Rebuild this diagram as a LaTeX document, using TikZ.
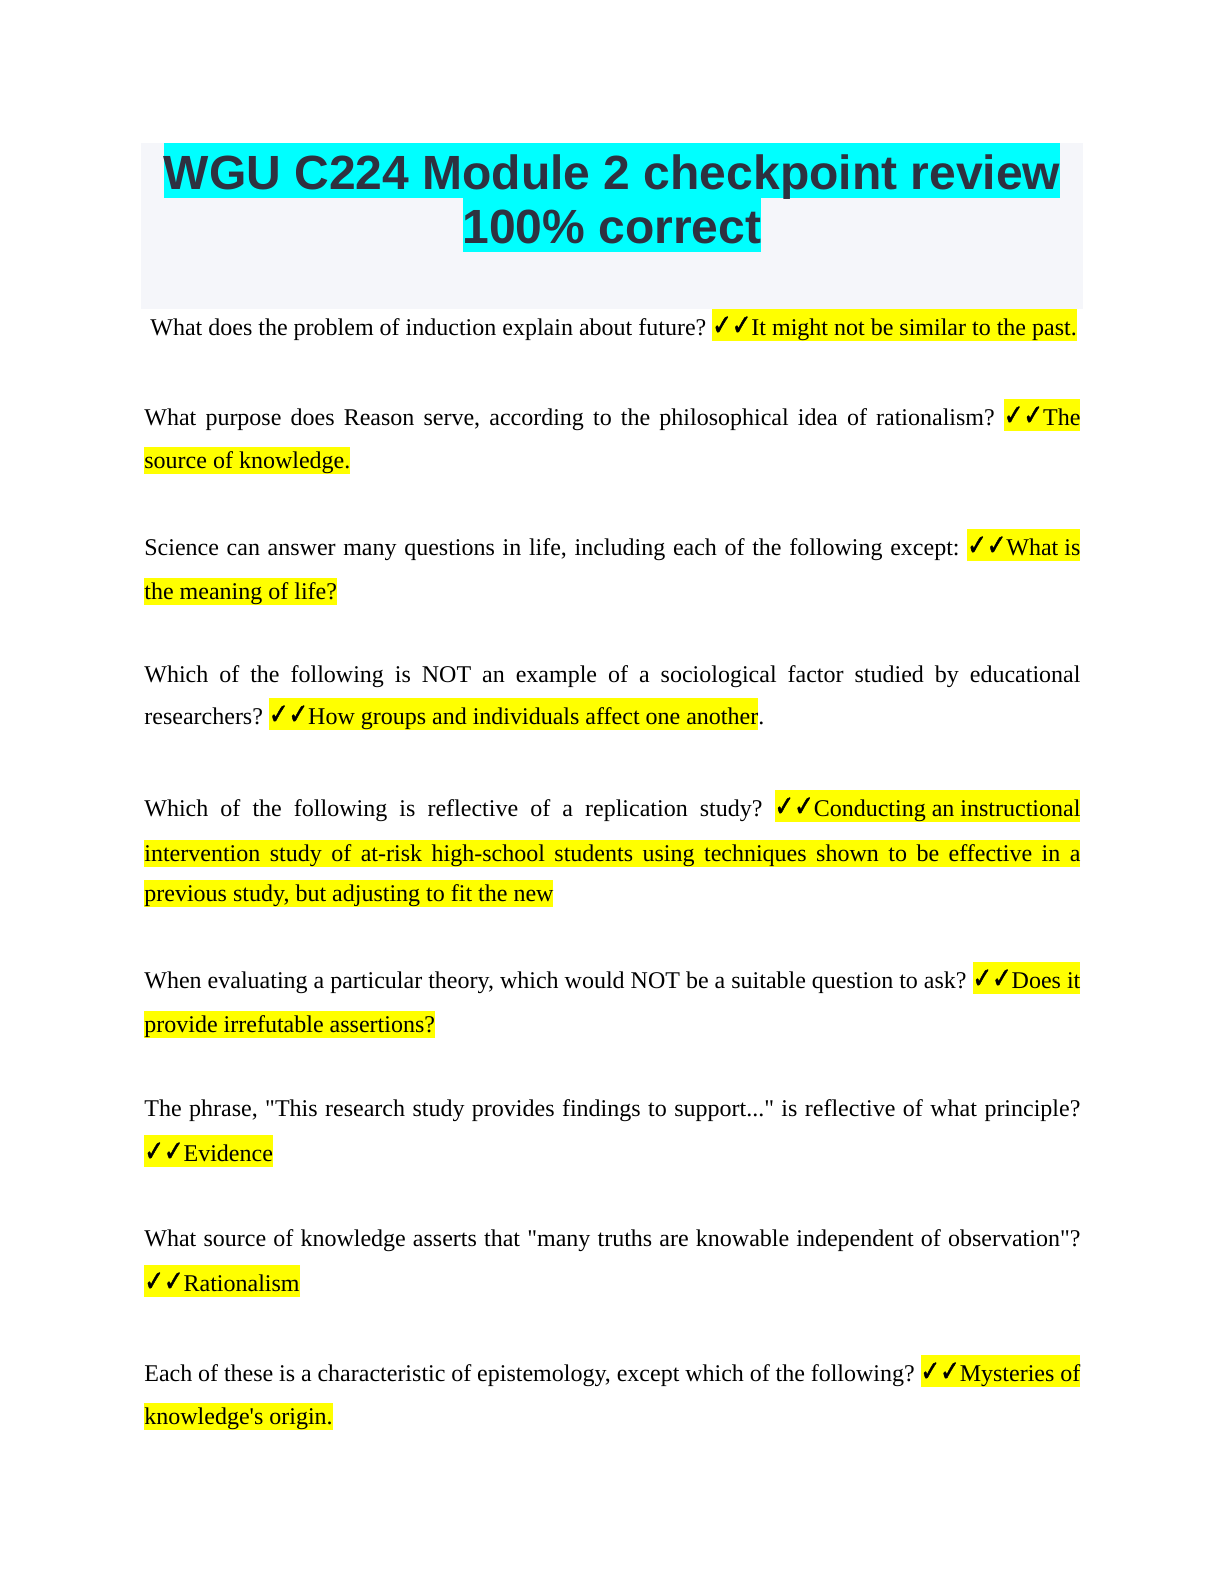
\documentclass[tikz,border=0pt]{standalone}
\usepackage{fontspec}
\newfontfamily\bodyfont{Liberation Serif}
\newfontfamily\headfont{Liberation Sans}
\newfontfamily\checkfont{DejaVu Sans}[FakeBold=1.6]
\definecolor{titlebg}{HTML}{F5F6FA}
\definecolor{titleink}{HTML}{2E3140}
\definecolor{hlcyan}{HTML}{00FFFF}
\definecolor{hlyellow}{HTML}{FFFF00}
\newlength\linew \setlength\linew{468pt}
\newcommand\ticks{{\checkfont\fontsize{13}{14}\selectfont\scalebox{0.9}[1.12]{✓✓}}}
\newcommand\dq{\XeTeXglyph\XeTeXcharglyph"22\relax}
\newcommand\sq{\XeTeXglyph\XeTeXcharglyph"27\relax}
\newcommand\hlt[1]{{\fboxsep=0pt\colorbox{hlyellow}{\rule[-3pt]{0pt}{16pt}#1}}}
\newcommand\hlp[1]{{\fboxsep=0pt\colorbox{hlyellow}{\rule[-3pt]{0pt}{13.5pt}#1}}}
\newcommand\just[1]{\makebox[\linew][s]{#1}}
\frenchspacing
\begin{document}
\begin{tikzpicture}[x=0.5pt,y=-0.5pt,
  qline/.style={anchor=base west,inner sep=0pt,font=\bodyfont\fontsize{12}{14}\selectfont\frenchspacing},
  ttl/.style={anchor=base,fill=hlcyan,text=titleink,inner sep=0pt,text height=23pt,text depth=4.5pt,font=\headfont\bfseries\fontsize{24}{27}\selectfont}]
  \useasboundingbox (0,0) rectangle (1224,1584);
  \fill[titlebg] (141,143) rectangle (1083,309);
  \node[ttl] (ttl1) at (612,189) {WGU C224 Module 2 checkpoint review};
  \node[ttl] (ttl2) at (612,243) {100\% correct};
  \node[qline] (q1) at (150,335) {What does the problem of induction explain about future? \hlt{\ticks It might not be similar to the past.}};
  \node[qline] (q2a) at (144,425) {\just{What purpose does Reason serve, according to the philosophical idea of rationalism? \hlt{\ticks The}}};
  \node[qline] (q2b) at (144,468) {\hlp{source of knowledge.}};
  \node[qline] (q3a) at (144,555) {\just{Science can answer many questions in life, including each of the following except: \hlt{\ticks What is}}};
  \node[qline] (q3b) at (144,599) {\hlp{the meaning of life?}};
  \node[qline] (q4a) at (144,682) {\just{Which of the following is NOT an example of a sociological factor studied by educational}};
  \node[qline] (q4b) at (144,724) {researchers? \hlt{\ticks How groups and individuals affect one another}.};
  \node[qline] (q5a) at (144,816) {\just{Which of the following is reflective of a replication study? \hlt{\ticks Conducting an instructional}}};
  \node[qline] (q5b) at (144,861) {\hlp{\just{intervention study of at-risk high-school students using techniques shown to be effective in a}}};
  \node[qline] (q5c) at (144,901) {\hlp{previous study, but adjusting to fit the new}};
  \node[qline] (q6a) at (144,988) {\just{When evaluating a particular theory, which would NOT be a suitable question to ask? \hlt{\ticks Does it}}};
  \node[qline] (q6b) at (144,1032) {\hlp{provide irrefutable assertions?}};
  \node[qline] (q7a) at (144,1116) {\just{The phrase, \dq This research study provides findings to support...\dq{} is reflective of what principle?}};
  \node[qline] (q7b) at (144,1161) {\hlt{\ticks Evidence}};
  \node[qline] (q8a) at (144,1246) {\just{What source of knowledge asserts that \dq many truths are knowable independent of observation\dq?}};
  \node[qline] (q8b) at (144,1291) {\hlt{\ticks Rationalism}};
  \node[qline] (q9a) at (144,1381) {\just{Each of these is a characteristic of epistemology, except which of the following? \hlt{\ticks Mysteries of}}};
  \node[qline] (q9b) at (144,1424) {\hlp{knowledge\sq s origin.}};
\end{tikzpicture}
\end{document}
